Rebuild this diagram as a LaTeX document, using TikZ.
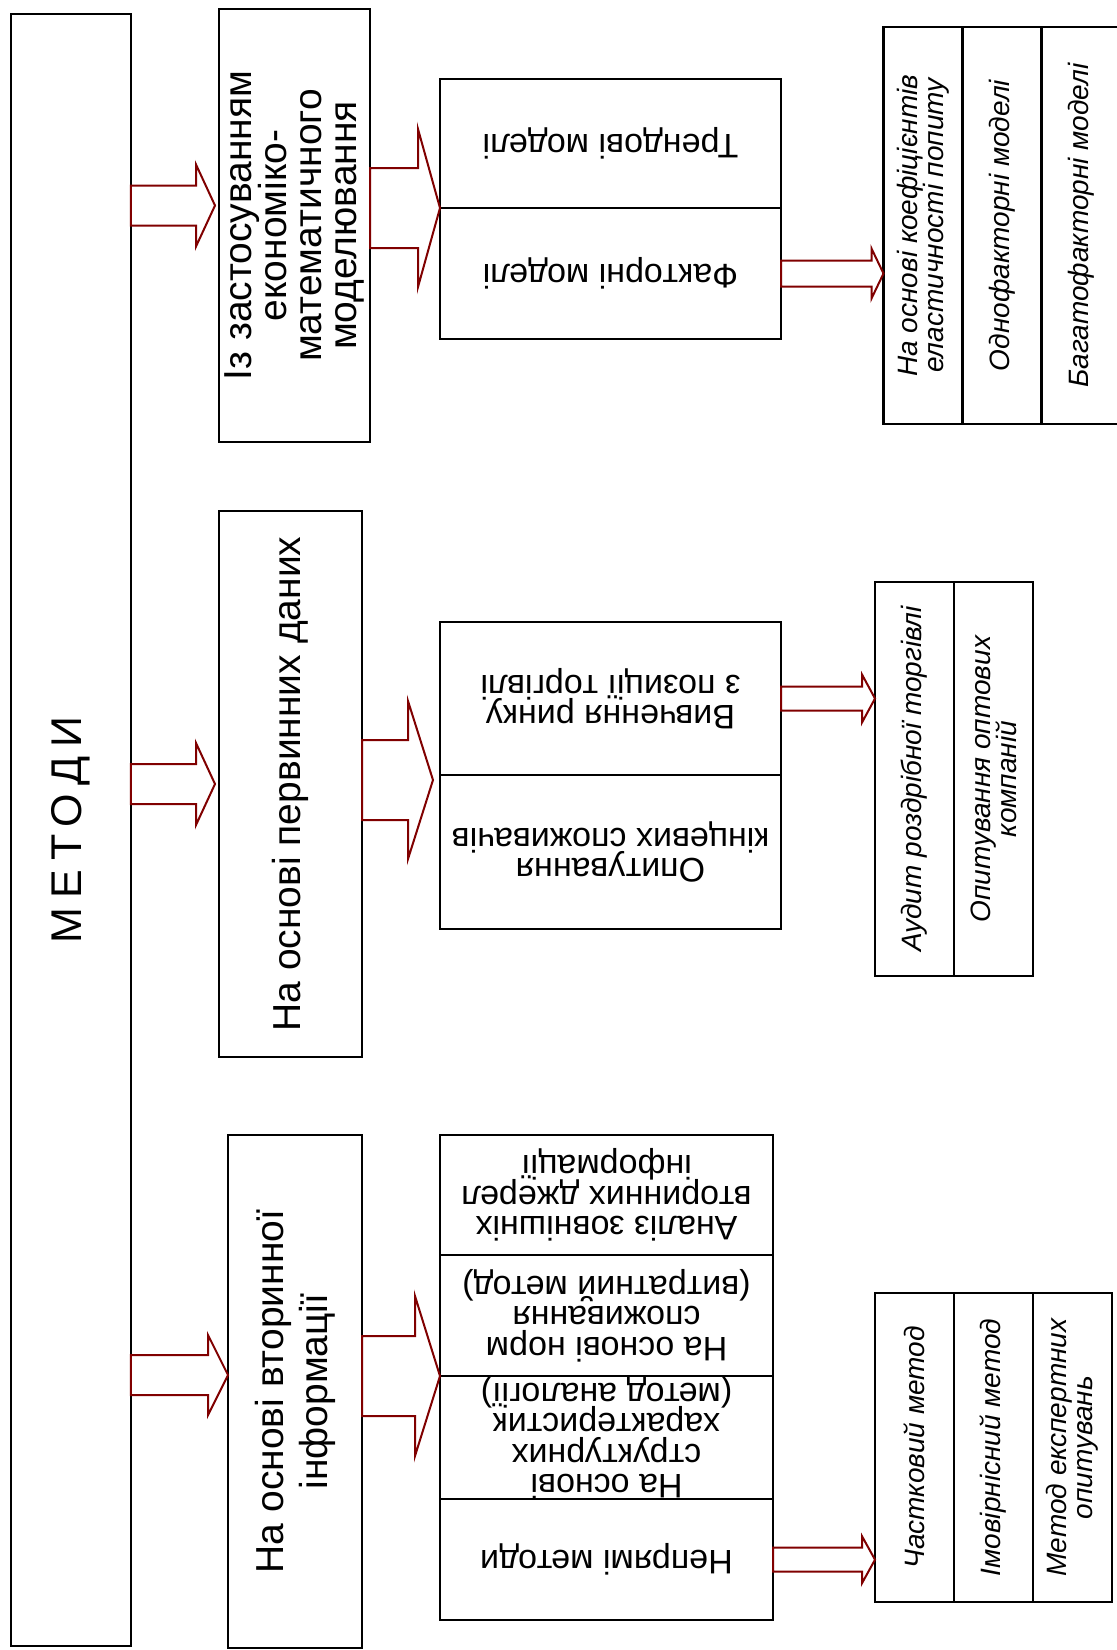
\documentclass[tikz,border=0pt]{standalone}
\usepackage{fontspec}
\setmainfont{Liberation Sans}
\usepackage{graphicx}
\usetikzlibrary{calc, positioning}

\newdimen\px \px=0.5pt
\definecolor{arrowred}{RGB}{128,0,0}

% centred lines with a fixed pitch
\newcommand{\stack}[1]{\vbox{\lineskiplimit=-50pt\halign{\hfil##\hfil\cr#1\crcr}}}

% block arrow from the side of one node to a tip
\newcommand{\blockarrow}[5]{%
  \draw[pointer] let \p1=(#1), \p2=(#2) in
    (\x1,\y2+#3) -- (\x2-#5,\y2+#3) -- (\x2-#5,\y2+#4) -- (\x2,\y2)
    -- (\x2-#5,\y2-#4) -- (\x2-#5,\y2-#3) -- (\x1,\y2-#3) -- cycle;}

\begin{document}
\begin{tikzpicture}[x=\px, y=-\px,
    frame/.style={draw, line width=1.3pt, inner sep=0pt, outer sep=0pt},
    group/.style={frame, font=\fontsize{19.5}{17.5}\selectfont},
    cell/.style={frame, minimum width=341\px, font=\fontsize{17}{15.25}\selectfont},
    item/.style={frame, minimum width=79\px, font=\fontsize{14}{13}\selectfont\itshape},
    pointer/.style={draw=arrowred, line width=1pt, line join=miter}
]
\useasboundingbox (0,0) rectangle (1117,1650);

% Main frame
\node[frame, minimum width=120\px, minimum height=1632\px,
      font=\fontsize{21.5}{24}\selectfont\addfontfeatures{LetterSpace=21}] (methods) at (70.85,830)
      {\rotatebox{90}{МЕТОДИ}};

% Three groups of methods
\node[group, minimum width=151\px, minimum height=433\px] (model) at (294.5,225.5)
      {\rotatebox{90}{\stack{Із застосуванням\cr економіко-\cr математичного\cr моделювання}}};
\node[group, minimum width=143\px, minimum height=546\px] (primary) at (290.5,784)
      {\rotatebox{90}{\stack{На основі первинних даних}}};
\node[group, minimum width=134\px, minimum height=513\px, font=\fontsize{19.5}{22}\selectfont] (secondary) at (295,1391.5)
      {\rotatebox{90}{\stack{На основі вторинної\cr інформації}}};

% Models
\node[cell, minimum height=129\px] (trend) at (610.5,143.5) {\rotatebox{180}{\stack{Трендові моделі}}};
\node[cell, minimum height=131\px, below=0pt of trend] (factor) {\rotatebox{180}{\stack{Факторні моделі}}};

% Primary data
\node[cell, minimum height=153\px] (study) at (610.5,698.5) {\rotatebox{180}{\stack{Вивчення ринку\cr з позиції торгівлі}}};
\node[cell, minimum height=154\px, below=0pt of study] (survey) {\rotatebox{180}{\stack{Опитування\cr кінцевих споживачів}}};

% Secondary data
\node[cell, minimum width=333\px, minimum height=120\px] (external) at (606.5,1195)
      {\rotatebox{180}{\stack{Аналіз зовнішніх\cr вторинних джерел\cr інформації}}};
\node[cell, minimum width=333\px, minimum height=121\px, below=0pt of external] (norms)
      {\rotatebox{180}{\stack{На основі норм\cr споживання\cr (витратний метод)}}};
\node[cell, minimum width=333\px, minimum height=120\px, below=0pt of norms] (analog)
      {\rotatebox{180}{\stack{На основі\cr структурних\cr характеристик\cr (метод аналогії)}}};
\node[cell, minimum width=333\px, minimum height=121\px, below=0pt of analog] (indirect)
      {\rotatebox{180}{\stack{Непрямі методи}}};

% Right columns
\node[item, minimum height=397\px] (elastic) at (923,225.5)
      {\rotatebox{90}{\stack{На основі коефіцієнтів\cr еластичності попиту}}};
\node[item, minimum height=397\px, right=0pt of elastic] (onefactor) {\rotatebox{90}{\stack{Однофакторні моделі}}};
\node[item, minimum height=397\px, right=0pt of onefactor] (multifactor) {\rotatebox{90}{\stack{Багатофакторні моделі}}};

\node[item, minimum height=394\px] (audit) at (914.5,779) {\rotatebox{90}{\stack{Аудит роздрібної торгівлі}}};
\node[item, minimum height=394\px, right=0pt of audit] (wholesale) {\rotatebox{90}{\stack{Опитування оптових\cr компаній}}};

\node[item, minimum height=309\px] (partial) at (914.5,1447.5) {\rotatebox{90}{\stack{Частковий метод}}};
\node[item, minimum height=309\px, right=0pt of partial] (probable) {\rotatebox{90}{\stack{Імовірнісний метод}}};
\node[item, minimum height=309\px, right=0pt of probable] (expert) {\rotatebox{90}{\stack{Метод експертних\cr опитувань}}};

% Block arrows
\blockarrow{methods.east}{[shift={(-4\px,20\px)}]model.west}{20\px}{41\px}{19\px}
\blockarrow{methods.east}{[xshift=-4\px]primary.west}{20\px}{41\px}{19\px}
\blockarrow{methods.east}{[yshift=16.5\px]secondary.west}{20\px}{40\px}{20\px}

\blockarrow{model.east}{trend.south west}{40\px}{79\px}{22\px}
\blockarrow{primary.east}{[shift={(-7\px,-5\px)}]study.south west}{40\px}{79\px}{25\px}
\blockarrow{secondary.east}{norms.south west}{40\px}{80\px}{25\px}

\blockarrow{factor.east}{factor.east -| elastic.west}{13\px}{25\px}{12\px}
\blockarrow{study.east}{study.east -| audit.west}{12\px}{24\px}{13\px}
\blockarrow{indirect.east}{indirect.east -| partial.west}{12\px}{23.5\px}{13\px}

\end{tikzpicture}
\end{document}
